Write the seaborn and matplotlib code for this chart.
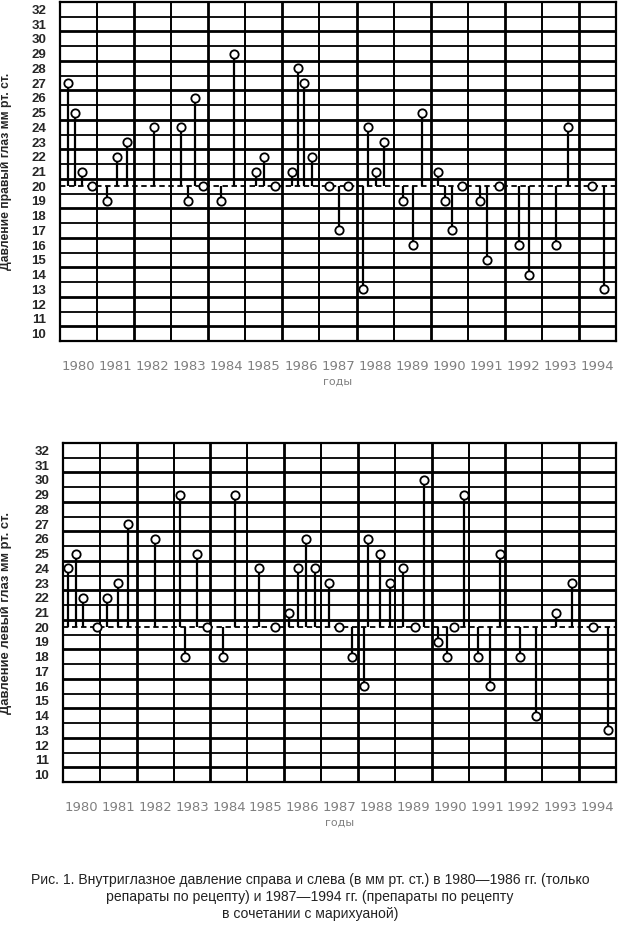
import numpy as np
import pandas as pd
import seaborn as sns
import matplotlib
matplotlib.use('Agg')
import matplotlib.pyplot as plt
from matplotlib import font_manager

# right eye (top panel): position inside the year, pressure
right_pos = [1980.22, 1980.40, 1980.59, 1980.86, 1981.27, 1981.53, 1981.80, 1982.54,
             1983.27, 1983.45, 1983.64, 1983.86, 1984.34, 1984.70, 1985.29, 1985.51,
             1985.80, 1986.26, 1986.42, 1986.59, 1986.80, 1987.26, 1987.53, 1987.78,
             1988.17, 1988.31, 1988.53, 1988.74, 1989.25, 1989.52, 1989.77, 1990.20,
             1990.39, 1990.58, 1990.85, 1991.33, 1991.52, 1991.84, 1992.38, 1992.65,
             1993.38, 1993.70, 1994.35, 1994.67]
right_val = [27, 25, 21, 20, 19, 22, 23, 24,
             24, 19, 26, 20, 19, 29, 21, 22,
             20, 21, 28, 27, 22, 20, 17, 20,
             13, 24, 21, 23, 19, 16, 25, 21,
             19, 17, 20, 19, 15, 20, 16, 14,
             16, 24, 20, 13]

# left eye (bottom panel)
left_pos = [1980.14, 1980.35, 1980.54, 1980.92, 1981.19, 1981.49, 1981.76, 1982.50,
            1983.17, 1983.31, 1983.63, 1983.91, 1984.34, 1984.66, 1985.32, 1985.75,
            1986.13, 1986.37, 1986.59, 1986.83, 1987.21, 1987.49, 1987.84, 1988.16,
            1988.27, 1988.60, 1988.87, 1989.22, 1989.55, 1989.79, 1990.17, 1990.41,
            1990.60, 1990.88, 1991.26, 1991.58, 1991.85, 1992.39, 1992.83, 1993.37,
            1993.80, 1994.37, 1994.78]
left_val = [24, 25, 22, 20, 22, 23, 27, 26,
            29, 18, 25, 20, 18, 29, 24, 20,
            21, 24, 26, 24, 23, 20, 18, 16,
            26, 25, 23, 24, 20, 30, 19, 18,
            20, 29, 18, 16, 25, 18, 14, 21,
            23, 20, 13]

years = list(range(1980, 1995))
yticks = list(range(10, 33))
base = 20

names = {f.name for f in font_manager.fontManager.ttflist}
narrow = 'Liberation Sans Narrow' if 'Liberation Sans Narrow' in names else 'Liberation Sans'

sns.set_style('white')
plt.rcParams['font.family'] = ['DejaVu Sans']

fig = plt.figure(figsize=(6.2, 9.32), dpi=100)
ax1 = fig.add_axes([60/620, 1-341/932, 556/620, 339/932])
ax2 = fig.add_axes([63/620, 1-782/932, 553/620, 339/932])


def draw_panel(ax, pos, val, ylabel, label_x, label_size):
    df = pd.DataFrame({'pos': pos, 'val': val})
    ax.set_xlim(1980, 1995)
    ax.set_ylim(9.5, 32.5)
    # grid of the chart paper
    for k, h in enumerate(np.arange(10.5, 32.5, 1.0)):
        ax.axhline(h, color='black', lw=2.0 if k % 2 == 0 else 1.3, zorder=1)
    for k, yr in enumerate(range(1981, 1995)):
        ax.axvline(yr, color='black', lw=2.0 if k % 2 == 1 else 1.4, zorder=1)
    # baseline
    ax.axhline(base, color='black', lw=1.3, ls=(0, (3, 2)), zorder=2)
    ax.vlines(df['pos'], base, df['val'], color='black', lw=1.6, zorder=3)
    sns.scatterplot(data=df, x='pos', y='val', ax=ax, marker='o', s=36,
                    facecolor='white', edgecolor='black', linewidth=1.3, zorder=4)
    ax.set_yticks(yticks)
    ax.set_yticklabels([str(t) for t in yticks], fontfamily=narrow,
                       fontweight='bold', fontsize=9.5)
    ax.set_xticks([y + 0.5 for y in years])
    ax.set_xticklabels([str(y) for y in years], fontsize=9.5, color='#808080')
    ax.set_xticks(np.arange(1980, 1995, 1/3), minor=True)
    ax.tick_params(axis='x', which='major', length=0, pad=14)
    ax.tick_params(axis='x', which='minor', length=3, direction='in', width=1.2)
    ax.tick_params(axis='y', length=0, pad=10)
    ax.set_xlabel('годы', fontsize=8, color='#808080', labelpad=2)
    ax.set_ylabel(ylabel, fontsize=label_size, fontweight='bold', fontfamily=narrow)
    ax.yaxis.set_label_coords(label_x, 0.5)
    for s in ax.spines.values():
        s.set_color('black')
        s.set_linewidth(1.6)


draw_panel(ax1, right_pos, right_val, 'Давление правый глаз мм рт. ст.', -48/556, 8.7)
draw_panel(ax2, left_pos, left_val, 'Давление левый глаз мм рт. ст.', -51/553, 9.4)

caption = ('Рис. 1. Внутриглазное давление справа и слева (в мм рт. ст.) в 1980—1986 гг. (только\n'
           'репараты по рецепту) и 1987—1994 гг. (препараты по рецепту\n'
           'в сочетании с марихуаной)')
fig.text(0.5, 1-897/932, caption, ha='center', va='center', fontsize=10.1,
         fontfamily=narrow, color='#222222', linespacing=1.3)

fig.savefig('out.png', dpi=100)
